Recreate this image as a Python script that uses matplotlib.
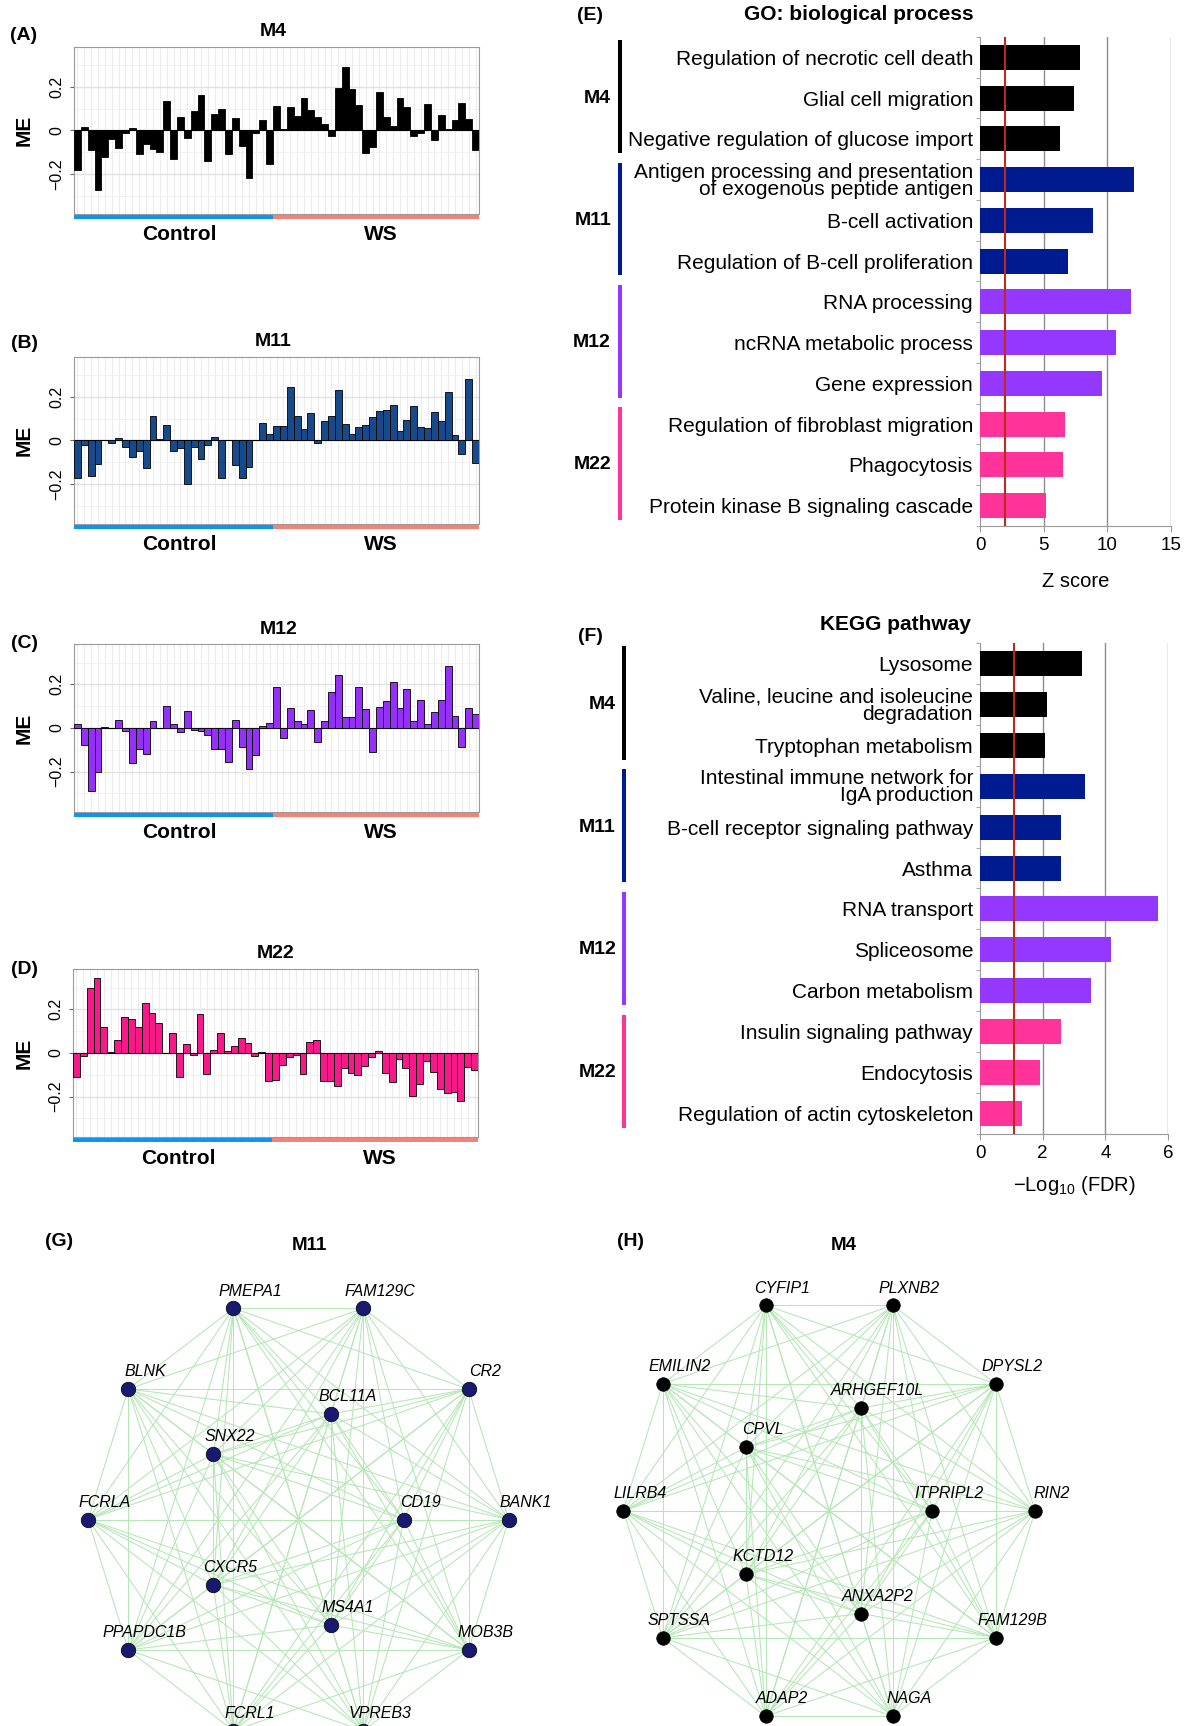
import itertools
import numpy as np
import matplotlib
matplotlib.use("Agg")
import matplotlib.pyplot as plt
from matplotlib.patches import Rectangle
from matplotlib.collections import LineCollection
import matplotlib.transforms as mtransforms

plt.rcParams['font.family'] = ['Liberation Sans', 'DejaVu Sans']
plt.rcParams['mathtext.fontset'] = 'custom'
plt.rcParams['mathtext.rm'] = 'Liberation Sans'

# ---- module eigengene values (29 control samples, then 30 WS samples) ----
n_control = 29
me_m4 = [-0.18, 0.015, -0.09, -0.275, -0.12, -0.04, -0.08, -0.01, 0.01, -0.11, -0.06, -0.085, -0.10, 0.135,
         -0.13, 0.063, -0.033, 0.09, 0.165, -0.14, 0.075, 0.10, -0.11, 0.058, -0.07, -0.22, -0.01, 0.048, -0.155,
         0.115, 0.008, 0.108, 0.065, 0.15, 0.095, 0.06, 0.032, -0.025, 0.198, 0.295, 0.19, 0.118, -0.105, -0.075,
         0.178, 0.06, 0.022, 0.15, 0.11, -0.025, -0.01, 0.12, -0.042, 0.07, 0.008, 0.05, 0.125, 0.055, -0.09]
me_m11 = [-0.175, -0.02, -0.165, -0.11, 0.0, -0.01, 0.01, -0.03, -0.075, -0.05, -0.125, 0.113, 0.008, 0.07,
          -0.05, -0.035, -0.2, -0.03, -0.085, -0.02, 0.018, -0.175, 0.0, -0.115, -0.175, -0.12, 0.003, 0.08, 0.032,
          0.065, 0.065, 0.245, 0.113, 0.055, 0.125, -0.01, 0.092, 0.113, 0.235, 0.077, 0.032, 0.063, 0.07, 0.108,
          0.135, 0.14, 0.165, 0.043, 0.095, 0.16, 0.062, 0.058, 0.133, 0.09, 0.223, 0.027, -0.06, 0.285, -0.105]
me_m12 = [0.018, -0.08, -0.29, -0.2, 0.003, 0.002, 0.035, -0.015, -0.16, -0.095, -0.12, 0.033, -0.002, 0.1,
          0.017, -0.017, 0.078, -0.008, -0.012, -0.03, -0.098, -0.098, -0.157, 0.037, -0.085, -0.19, -0.125, 0.01, 0.022,
          0.19, -0.045, 0.09, 0.032, 0.02, 0.082, -0.065, 0.03, 0.165, 0.245, 0.052, 0.05, 0.187, 0.087, -0.11,
          0.097, 0.123, 0.213, 0.093, 0.178, 0.03, 0.127, 0.02, 0.075, 0.127, 0.285, 0.055, -0.088, 0.09, 0.063]
me_m22 = [-0.11, -0.015, 0.3, 0.345, 0.12, 0.005, 0.06, 0.167, 0.158, 0.12, 0.228, 0.185, 0.137, 0.0,
          0.093, -0.112, 0.04, -0.007, 0.177, -0.098, 0.015, 0.093, 0.008, 0.03, 0.068, 0.048, -0.015, 0.003, -0.13,
          -0.125, -0.053, -0.02, -0.01, -0.097, 0.052, 0.06, -0.127, -0.127, -0.152, -0.07, -0.09, -0.103, -0.06,
          -0.02, 0.007, -0.09, -0.135, -0.027, -0.07, -0.195, -0.14, -0.035, -0.085, -0.163, -0.185, -0.178, -0.222,
          -0.065, -0.077]

# ---- enrichment ----
modules = ['M4', 'M11', 'M12', 'M22']
go_terms = ['Regulation of necrotic cell death', 'Glial cell migration', 'Negative regulation of glucose import',
            'Antigen processing and presentation\nof exogenous peptide antigen', 'B-cell activation',
            'Regulation of B-cell proliferation', 'RNA processing', 'ncRNA metabolic process', 'Gene expression',
            'Regulation of fibroblast migration', 'Phagocytosis', 'Protein kinase B signaling cascade']
go_zscore = [7.83, 7.36, 6.26, 12.1, 8.87, 6.89, 11.86, 10.69, 9.59, 6.67, 6.51, 5.16]
kegg_terms = ['Lysosome', 'Valine, leucine and isoleucine\ndegradation', 'Tryptophan metabolism',
              'Intestinal immune network for\nIgA production', 'B-cell receptor signaling pathway', 'Asthma',
              'RNA transport', 'Spliceosome', 'Carbon metabolism', 'Insulin signaling pathway', 'Endocytosis',
              'Regulation of actin cytoskeleton']
kegg_logfdr = [3.25, 2.13, 2.06, 3.34, 2.57, 2.57, 5.67, 4.18, 3.54, 2.57, 1.9, 1.34]
terms_per_module = 3

# ---- networks ----
m11_outer = ['BANK1', 'CR2', 'FAM129C', 'PMEPA1', 'BLNK', 'FCRLA', 'PPAPDC1B', 'FCRL1', 'VPREB3', 'MOB3B']
m11_inner = ['CD19', 'BCL11A', 'SNX22', 'CXCR5', 'MS4A1']
m4_outer = ['RIN2', 'DPYSL2', 'PLXNB2', 'CYFIP1', 'EMILIN2', 'LILRB4', 'SPTSSA', 'ADAP2', 'NAGA', 'FAM129B']
m4_inner = ['ITPRIPL2', 'ARHGEF10L', 'CPVL', 'KCTD12', 'ANXA2P2']

module_colors = {'M4': '#000000', 'M11': '#001a8f', 'M12': '#9438ff', 'M22': '#ff3399'}

W, H = 1186, 1726
fig = plt.figure(figsize=(W / 100, H / 100), dpi=100)


def box(x0, y0, x1, y1):
    return [x0 / W, 1 - y1 / H, (x1 - x0) / W, (y1 - y0) / H]


def ftext(x, y, s, **kw):
    fig.text(x / W, 1 - y / H, s, **kw)


def me_panel(bx, values, color, title, title_xy, letter, letter_y):
    ax = fig.add_axes(box(*bx))
    x = np.arange(len(values))
    ax.bar(x, values, width=1.0, color=color, edgecolor='black', linewidth=0.6, zorder=3)
    ax.axhline(0, color='black', lw=0.8, zorder=2)
    ax.set_xlim(-0.5, len(values) - 0.5)
    ax.set_ylim(-0.385, 0.385)
    ax.set_yticks([-0.2, 0, 0.2], labels=['\u22120.2', '0', '0.2'], rotation=90, va='center')
    ax.set_yticks([-0.3, -0.1, 0.1, 0.3], minor=True)
    ax.set_xticks(x, labels=[])
    ax.grid(which='major', axis='y', color='#e2e2e2', lw=1.0)
    ax.grid(which='minor', axis='y', color='#f0f0f0', lw=0.6)
    ax.grid(which='major', axis='x', color='#ececec', lw=0.8)
    ax.set_axisbelow(True)
    ax.tick_params(axis='x', length=2, color='#666', width=0.5)
    ax.tick_params(axis='y', which='major', length=3, color='#666', labelsize=11.5, pad=4)
    ax.tick_params(axis='y', which='minor', length=0)
    for sp in ax.spines.values():
        sp.set_color('#9a9a9a')
    trans = mtransforms.blended_transform_factory(ax.transData, ax.transAxes)
    n = len(values)
    ax.add_patch(Rectangle((-0.5, -0.028), n_control, 0.026, transform=trans, clip_on=False,
                           color='#0a96f0', lw=0))
    ax.add_patch(Rectangle((n_control - 0.5, -0.028), n - n_control, 0.026, transform=trans, clip_on=False,
                           color='#f98077', lw=0))
    ax.text((n_control - 1) / 2 + 0.8, -0.125, 'Control', transform=trans, ha='center', va='center',
            fontsize=15, fontweight='bold')
    ax.text(n_control + (n - n_control - 1) / 2 + 0.7, -0.125, 'WS', transform=trans, ha='center',
            va='center', fontsize=15, fontweight='bold')
    ftext(24, (bx[1] + bx[3]) / 2, 'ME', rotation=90, ha='center', va='center', fontsize=15, fontweight='bold')
    ftext(title_xy[0], title_xy[1], title, ha='center', va='center', fontsize=14, fontweight='bold')
    ftext(24, letter_y, letter, ha='center', va='center', fontsize=14, fontweight='bold')


me_panel((74, 47, 479, 214), me_m4, '#000000', 'M4', (273, 31), '(A)', 35.5)
me_panel((74, 357, 479, 524), me_m11, '#174a8a', 'M11', (273, 342), '(B)', 344)
me_panel((74, 644, 479, 812), me_m12, '#9430f8', 'M12', (279, 630), '(C)', 643)
me_panel((73, 969, 478, 1137), me_m22, '#f7198a', 'M22', (276, 953), '(D)', 969)


def enrich_panel(bx, terms, values, xmax, xticks, cutoff, title, title_xy, letter, letter_y,
                 xlabel, xlabel_dy, line_x, label_x):
    ax = fig.add_axes(box(*bx))
    n = len(terms)
    y = np.arange(n)
    cols = [module_colors[modules[i // terms_per_module]] for i in range(n)]
    ax.barh(y, values, height=0.61, color=cols, zorder=3)
    ax.set_ylim(n - 0.5, -0.5)
    ax.set_xlim(0, xmax)
    ax.set_xticks(xticks)
    ax.set_yticks(y, labels=terms)
    for lab in ax.get_yticklabels():
        lab.set_fontsize(15)
        lab.set_linespacing(0.88)
    ax.set_yticks(np.arange(-0.5, n, 1), minor=True)
    ax.tick_params(axis='y', which='major', length=0, pad=5)
    ax.tick_params(axis='y', which='minor', length=3, color='#999')
    ax.tick_params(axis='x', length=4, color='#999', labelsize=13.5, pad=4)
    for s in ['top', 'right']:
        ax.spines[s].set_visible(False)
    for s in ['left', 'bottom']:
        ax.spines[s].set_color('#999')
    for xv in xticks[1:]:
        ax.axvline(xv, color='#8c8c8c', lw=1.0, zorder=1)
    ax.axvline(cutoff, color='#c0281b', lw=1.5, zorder=4)
    ax.text(0.5, -xlabel_dy / (bx[3] - bx[1]), xlabel, transform=ax.transAxes, ha='center', va='center',
            fontsize=14.5)
    trans = mtransforms.blended_transform_factory(fig.transFigure, ax.transData)
    for g, m in enumerate(modules):
        y0 = g * terms_per_module - 0.5 + 0.08
        y1 = (g + 1) * terms_per_module - 0.5 - 0.15
        ax.plot([line_x / W, line_x / W], [y0, y1], color=module_colors[m], lw=2.9, transform=trans,
                clip_on=False, solid_capstyle='butt')
        ax.text(label_x / W, g * terms_per_module + 1, m, transform=trans, ha='right', va='center',
                fontsize=14, fontweight='bold')
    ftext(title_xy[0], title_xy[1], title, ha='center', va='center', fontsize=15, fontweight='bold')
    ftext(590, letter_y, letter, ha='center', va='center', fontsize=14, fontweight='bold')


enrich_panel((980, 37, 1171, 526), go_terms, go_zscore, 15, [0, 5, 10, 15], 2.0,
             'GO: biological process', (859, 14), '(E)', 15.5, 'Z score', 55.5, 620, 611)
enrich_panel((980, 643, 1168, 1134), kegg_terms, kegg_logfdr, 6, [0, 2, 4, 6], 1.1,
             'KEGG pathway', (895, 624), '(F)', 636.5, '\u2212Log$_{10}$ (FDR)', 51.5, 624, 616)


def network(cx, cy, rx, ry, outer, inner, node_color, node_size, title, title_x, letter, letter_x):
    k = 1.4
    ax = fig.add_axes(box(cx - k * rx, cy - k * ry, cx + k * rx, cy + k * ry))
    ax.set_xlim(-k, k)
    ax.set_ylim(-k, k)
    ax.axis('off')
    names = outer + inner
    ang_o = np.deg2rad(np.arange(len(outer)) * 360 / len(outer))
    ang_i = np.deg2rad(np.arange(len(inner)) * 360 / len(inner))
    xs = np.concatenate([np.cos(ang_o), 0.5 * np.cos(ang_i)])
    ys = np.concatenate([np.sin(ang_o), 0.5 * np.sin(ang_i)])
    segs = [[(xs[a], ys[a]), (xs[b], ys[b])] for a, b in itertools.combinations(range(len(names)), 2)]
    ax.add_collection(LineCollection(segs, colors='#b5e6b5', linewidths=0.75, zorder=1))
    ax.scatter(xs, ys, s=node_size, color=node_color, edgecolors='black', linewidths=0.5, zorder=3,
               clip_on=False)
    for nm, x, y in zip(names, xs, ys):
        ax.annotate(nm, (x, y), xytext=(12, 12.5), textcoords='offset points', ha='center', va='center',
                    fontsize=11.5, style='italic', zorder=4, annotation_clip=False)
    ftext(title_x, 1245.5, title, ha='center', va='center', fontsize=13.5, fontweight='bold')
    ftext(letter_x, 1241, letter, ha='center', va='center', fontsize=14, fontweight='bold')


network(298.4, 1519.5, 210.3, 222, m11_outer, m11_inner, '#191970', 110, 'M11', 309.5, '(G)', 59.5)
network(829.2, 1510.8, 205.9, 216, m4_outer, m4_inner, '#000000', 95, 'M4', 843.5, '(H)', 631)

fig.savefig('out.png', dpi=100)
